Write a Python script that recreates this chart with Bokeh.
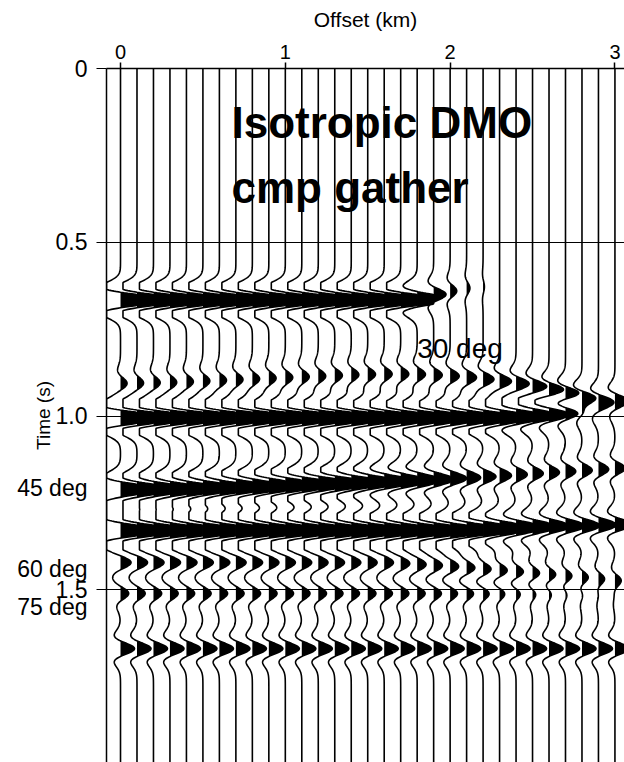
import numpy as np
from bokeh.plotting import figure
from bokeh.models import Range1d, FixedTicker, Label
from bokeh.embed import file_html
from bokeh.resources import INLINE
from bokeh.core.properties import value

# ---------------- data ----------------
offsets = [0.0, 0.1, 0.2, 0.3, 0.4, 0.5, 0.6, 0.7, 0.8, 0.9, 1.0,
           1.1, 1.2, 1.3, 1.4, 1.5, 1.6, 1.7, 1.8, 1.9, 2.0,
           2.1, 2.2, 2.3, 2.4, 2.5, 2.6, 2.7, 2.8, 2.9, 3.0]
x_ticks = [0, 1, 2, 3]
y_ticks = [0, 0.5, 1.0, 1.5]
y_tick_labels = {0: "0", 0.5: "0.5", 1: "1.0", 1.5: "1.5"}
# dip labels written beside the time axis (label, time of its centre)
dip_axis_labels = ["45 deg", "60 deg", "75 deg"]
dip_axis_times = [1.2054, 1.4407, 1.5478]

# event times (s) per trace and amplitudes (in trace spacings) per trace
evA_t = [0.666, 0.666, 0.666, 0.666, 0.666, 0.666, 0.666, 0.666, 0.666, 0.666, 0.666,
         0.666, 0.666, 0.666, 0.666, 0.666, 0.666, 0.666, 0.664, 0.650, 0.640,
         0.632, 0.628, 0.625, 0.625, 0.625, 0.625, 0.625, 0.625, 0.625, 0.625]
evA_a = [2.6, 2.6, 2.6, 2.6, 2.6, 2.6, 2.6, 2.6, 2.6, 2.6, 2.6,
         2.6, 2.6, 2.6, 2.6, 2.6, 2.6, 2.6, 1.9, 0.75, 0.4,
         0.2, 0.08, 0.0, 0.0, 0.0, 0.0, 0.0, 0.0, 0.0, 0.0]

evB_t = [0.906, 0.905, 0.904, 0.903, 0.901, 0.899, 0.897, 0.895, 0.893, 0.891, 0.889,
         0.887, 0.885, 0.883, 0.881, 0.880, 0.879, 0.879, 0.880, 0.882, 0.885,
         0.889, 0.894, 0.900, 0.907, 0.915, 0.925, 0.936, 0.948, 0.957, 0.955]
evB_a = [0.40, 0.40, 0.41, 0.41, 0.42, 0.42, 0.43, 0.43, 0.44, 0.44, 0.45,
         0.45, 0.45, 0.46, 0.46, 0.47, 0.48, 0.49, 0.50, 0.52, 0.55,
         0.60, 0.66, 0.72, 0.80, 0.88, 0.96, 1.05, 1.10, 0.95, 0.85]

evC_t = [1.005, 1.005, 1.005, 1.005, 1.005, 1.005, 1.005, 1.005, 1.005, 1.005, 1.005,
         1.005, 1.005, 1.005, 1.005, 1.005, 1.005, 1.005, 1.005, 1.005, 1.005,
         1.005, 1.005, 1.004, 1.002, 0.999, 0.995, 0.990, 0.985, 0.982, 0.980]
evC_a = [2.6, 2.6, 2.6, 2.6, 2.6, 2.6, 2.6, 2.6, 2.6, 2.6, 2.6,
         2.6, 2.6, 2.6, 2.6, 2.5, 2.5, 2.4, 2.4, 2.3, 2.3,
         2.2, 2.2, 2.1, 1.9, 1.6, 1.3, 1.0, 0.6, 0.35, 0.2]

evD_t = [1.211, 1.211, 1.210, 1.210, 1.209, 1.207, 1.206, 1.204, 1.203, 1.201, 1.199,
         1.197, 1.195, 1.194, 1.192, 1.190, 1.188, 1.186, 1.184, 1.182, 1.179,
         1.177, 1.174, 1.171, 1.168, 1.165, 1.162, 1.159, 1.156, 1.153, 1.150]
evD_a = [2.2, 2.2, 2.2, 2.2, 2.2, 2.2, 2.2, 2.2, 2.2, 2.2, 2.2,
         2.2, 2.2, 2.2, 2.1, 2.0, 1.9, 1.7, 1.5, 1.25, 1.0,
         0.85, 0.78, 0.72, 0.68, 0.65, 0.63, 0.62, 0.62, 0.62, 0.62]

evE_t = [1.329, 1.329, 1.329, 1.329, 1.329, 1.329, 1.329, 1.329, 1.329, 1.329, 1.329,
         1.329, 1.329, 1.329, 1.329, 1.329, 1.329, 1.329, 1.329, 1.329, 1.329,
         1.327, 1.325, 1.323, 1.321, 1.319, 1.317, 1.316, 1.315, 1.313, 1.312]
evE_a = [2.4, 2.4, 2.4, 2.4, 2.4, 2.4, 2.4, 2.4, 2.4, 2.4, 2.4,
         2.4, 2.4, 2.4, 2.4, 2.4, 2.4, 2.4, 2.4, 2.4, 2.4,
         2.4, 2.3, 2.0, 1.7, 1.5, 1.3, 1.2, 1.1, 1.1, 1.0]

evF_t = [1.421, 1.421, 1.421, 1.421, 1.421, 1.421, 1.421, 1.421, 1.421, 1.421, 1.421,
         1.421, 1.421, 1.421, 1.421, 1.421, 1.421, 1.424, 1.427, 1.430, 1.433,
         1.437, 1.441, 1.445, 1.449, 1.453, 1.457, 1.461, 1.465, 1.469, 1.473]
evF_a = [0.65, 0.65, 0.65, 0.65, 0.65, 0.64, 0.64, 0.63, 0.63, 0.62, 0.62,
         0.61, 0.60, 0.60, 0.59, 0.58, 0.57, 0.56, 0.55, 0.54, 0.53,
         0.52, 0.51, 0.50, 0.49, 0.48, 0.47, 0.46, 0.46, 0.45, 0.45]

evG_t = [1.510, 1.510, 1.510, 1.510, 1.510, 1.510, 1.510, 1.510, 1.510, 1.510, 1.510,
         1.510, 1.510, 1.510, 1.510, 1.510, 1.510, 1.510, 1.510, 1.510, 1.510,
         1.510, 1.510, 1.510, 1.510, 1.510, 1.510, 1.510, 1.510, 1.510, 1.510]
evG_a = [0.50, 0.50, 0.50, 0.50, 0.50, 0.50, 0.50, 0.50, 0.50, 0.50, 0.50,
         0.50, 0.50, 0.50, 0.50, 0.50, 0.50, 0.50, 0.49, 0.48, 0.46,
         0.44, 0.40, 0.36, 0.32, 0.28, 0.25, 0.22, 0.20, 0.18, 0.16]

evH_t = [1.669, 1.669, 1.669, 1.669, 1.669, 1.669, 1.669, 1.669, 1.669, 1.669, 1.669,
         1.669, 1.669, 1.669, 1.669, 1.669, 1.669, 1.669, 1.669, 1.669, 1.669,
         1.669, 1.669, 1.669, 1.669, 1.669, 1.669, 1.669, 1.669, 1.669, 1.669]
evH_a = [0.85, 0.85, 0.85, 0.85, 0.85, 0.85, 0.85, 0.85, 0.85, 0.85, 0.85,
         0.85, 0.85, 0.85, 0.85, 0.85, 0.85, 0.85, 0.85, 0.85, 0.85,
         0.85, 0.85, 0.85, 0.85, 0.85, 0.85, 0.85, 0.85, 0.85, 0.85]

events = [(evA_t, evA_a), (evB_t, evB_a), (evC_t, evC_a), (evD_t, evD_a),
          (evE_t, evE_a), (evF_t, evF_a), (evG_t, evG_a), (evH_t, evH_a)]

# ---------------- rendering parameters ----------------
WAVELET_HZ = 10.0
CLIP_POS = 1.0
CLIP_NEG = 0.85
SPACING = 0.1
T_MAX = 1.9965
W, H = 624, 762
LEFT, TOP = 106, 68

t = np.arange(0.0, T_MAX + 0.0015, 0.0015)


def ricker(tt, f):
    u = (np.pi * f * tt) ** 2
    return (1.0 - 2.0 * u) * np.exp(-u)


line_xs, line_ys, fill_xs, fill_ys = [], [], [], []
for i, off in enumerate(offsets):
    s = np.zeros_like(t)
    for et, ea in events:
        if ea[i] != 0.0:
            s += ea[i] * ricker(t - et[i], WAVELET_HZ)
    s = np.clip(s, -CLIP_NEG, CLIP_POS)
    x = off + SPACING * s
    line_xs.append(x.tolist())
    line_ys.append(t.tolist())
    pos = off + SPACING * np.maximum(s, 0.0)
    fill_xs.append([off] + pos.tolist() + [off])
    fill_ys.append([t[0]] + t.tolist() + [t[-1]])

# ---------------- figure ----------------
p = figure(width=W, height=H, output_backend="svg", toolbar_location=None,
           x_range=Range1d(-0.085, 3.058), y_range=Range1d(T_MAX, 0.0),
           x_axis_location="above",
           min_border_left=LEFT, min_border_top=TOP, min_border_right=0, min_border_bottom=0)
p.outline_line_color = None
p.background_fill_color = "white"

p.patches(fill_xs, fill_ys, fill_color="black", line_color=None)
p.multi_line(line_xs, line_ys, line_color="black", line_width=1.6)

FONT = "Liberation Sans"

xa = p.xaxis[0]
xa.ticker = FixedTicker(ticks=x_ticks)
xa.axis_label = "Offset (km)"
xa.axis_label_text_font = FONT
xa.axis_label_text_font_style = "normal"
xa.axis_label_text_font_size = "21px"
xa.axis_label_text_color = "black"
xa.axis_label_standoff = 11
xa.major_label_text_font = FONT
xa.major_label_text_font_size = "20px"
xa.major_label_text_color = "black"
xa.major_label_standoff = 4
xa.major_tick_out = 6
xa.major_tick_in = 0
xa.minor_tick_out = 0
xa.minor_tick_in = 0
xa.axis_line_width = 1.5
xa.axis_line_color = "black"
xa.major_tick_line_width = 1.5
xa.major_tick_line_color = "black"

# time axis: numbered ticks drawn as (unlabelled) minor ticks, and the labels
# (numbers plus the dip names) drawn as major labels without tick marks
ya = p.yaxis[0]
label_map = dict(y_tick_labels)
label_map.update(dict(zip(dip_axis_times, dip_axis_labels)))
ya.ticker = FixedTicker(ticks=y_ticks + dip_axis_times, minor_ticks=y_ticks)
ya.major_label_overrides = label_map
ya.axis_label = "Time (s)"
ya.axis_label_text_font = FONT
ya.axis_label_text_font_style = "normal"
ya.axis_label_text_font_size = "19px"
ya.axis_label_text_color = "black"
ya.axis_label_standoff = -40
ya.major_label_text_font = FONT
ya.major_label_text_font_size = "23px"
ya.major_label_text_color = "black"
ya.major_label_standoff = 9
ya.major_tick_out = 0
ya.major_tick_in = 0
ya.minor_tick_out = 10
ya.minor_tick_in = 0
ya.minor_tick_line_color = "black"
ya.minor_tick_line_width = 1.2
ya.axis_line_width = 1.5
ya.axis_line_color = "black"

p.xgrid.visible = False
p.ygrid.ticker = FixedTicker(ticks=[0.5, 1.0, 1.5])
p.ygrid.grid_line_color = "black"
p.ygrid.grid_line_width = 1

# title inside the frame
title_lines = ["Isotropic DMO", "cmp gather"]
title_x = [0.6735, 0.6735]
title_y = [0.1542, 0.3412]
p.text(x=title_x, y=title_y, text=title_lines, text_font=value(FONT),
       text_font_style="bold", text_font_size="44px", text_color="black",
       text_baseline="alphabetic", text_align="left")

# dip annotation inside the frame
p.add_layout(Label(x=1.8, y=0.8055, x_units="data", y_units="data", text="30 deg",
                   text_font=FONT, text_font_size="28px", text_color="black",
                   text_baseline="alphabetic", text_align="left"))

open("out.html", "w").write(file_html(p, INLINE))
